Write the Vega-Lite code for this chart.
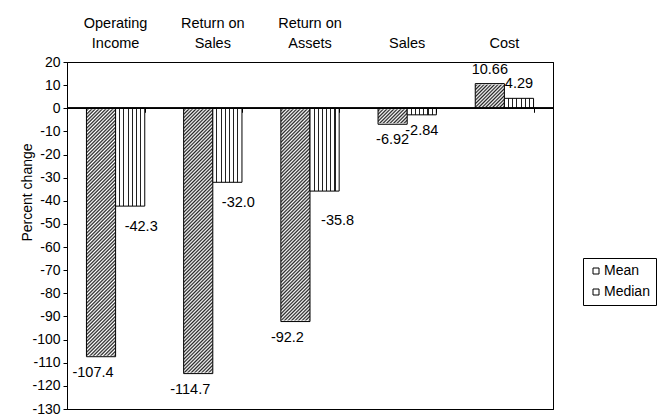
{
"$schema": "https://vega.github.io/schema/vega-lite/v6.json",
"width": 486, "height": 347,
"autosize": "none",
"padding": {"left": 67, "top": 62, "right": 117, "bottom": 10},
"background": "#ffffff",
"config": {
  "view": {"stroke": "#000", "strokeWidth": 1},
  "axis": {"grid": false},
  "font": "Liberation Sans",
  "locale": {"number": {"decimal": ".", "thousands": ",", "grouping": [3], "currency": ["$", ""], "minus": "-"}}
},
"data": {"values": [
  {"cat": "Operating Income", "series": "Mean", "value": -107.4},
  {"cat": "Operating Income", "series": "Median", "value": -42.3},
  {"cat": "Return on Sales", "series": "Mean", "value": -114.7},
  {"cat": "Return on Sales", "series": "Median", "value": -32.0},
  {"cat": "Return on Assets", "series": "Mean", "value": -92.2},
  {"cat": "Return on Assets", "series": "Median", "value": -35.8},
  {"cat": "Sales", "series": "Mean", "value": -6.92},
  {"cat": "Sales", "series": "Median", "value": -2.84},
  {"cat": "Cost", "series": "Mean", "value": 10.66},
  {"cat": "Cost", "series": "Median", "value": 4.29}
]},
"resolve": {"axis": {"x": "independent", "y": "independent"}},
"layer": [
  {
    "transform": [{"filter": "datum.series === 'Mean'"}],
    "mark": {"type": "bar", "strokeWidth": 0, "fill": {"gradient": "linear", "x1": 0, "y1": 0, "x2": 0.1189, "y2": 1.1887, "stops": [
{"offset":0,"color":"#222"},{"offset":0.005,"color":"#fff"},{"offset":0.01,"color":"#222"},{"offset":0.015,"color":"#fff"},{"offset":0.02,"color":"#222"},{"offset":0.025,"color":"#fff"},{"offset":0.03,"color":"#222"},{"offset":0.035,"color":"#fff"},{"offset":0.04,"color":"#222"},{"offset":0.045,"color":"#fff"},
{"offset":0.05,"color":"#222"},{"offset":0.055,"color":"#fff"},{"offset":0.06,"color":"#222"},{"offset":0.065,"color":"#fff"},{"offset":0.07,"color":"#222"},{"offset":0.075,"color":"#fff"},{"offset":0.08,"color":"#222"},{"offset":0.085,"color":"#fff"},{"offset":0.09,"color":"#222"},{"offset":0.095,"color":"#fff"},
{"offset":0.1,"color":"#222"},{"offset":0.105,"color":"#fff"},{"offset":0.11,"color":"#222"},{"offset":0.115,"color":"#fff"},{"offset":0.12,"color":"#222"},{"offset":0.125,"color":"#fff"},{"offset":0.13,"color":"#222"},{"offset":0.135,"color":"#fff"},{"offset":0.14,"color":"#222"},{"offset":0.145,"color":"#fff"},
{"offset":0.15,"color":"#222"},{"offset":0.155,"color":"#fff"},{"offset":0.16,"color":"#222"},{"offset":0.165,"color":"#fff"},{"offset":0.17,"color":"#222"},{"offset":0.175,"color":"#fff"},{"offset":0.18,"color":"#222"},{"offset":0.185,"color":"#fff"},{"offset":0.19,"color":"#222"},{"offset":0.195,"color":"#fff"},
{"offset":0.2,"color":"#222"},{"offset":0.205,"color":"#fff"},{"offset":0.21,"color":"#222"},{"offset":0.215,"color":"#fff"},{"offset":0.22,"color":"#222"},{"offset":0.225,"color":"#fff"},{"offset":0.23,"color":"#222"},{"offset":0.235,"color":"#fff"},{"offset":0.24,"color":"#222"},{"offset":0.245,"color":"#fff"},
{"offset":0.25,"color":"#222"},{"offset":0.255,"color":"#fff"},{"offset":0.26,"color":"#222"},{"offset":0.265,"color":"#fff"},{"offset":0.27,"color":"#222"},{"offset":0.275,"color":"#fff"},{"offset":0.28,"color":"#222"},{"offset":0.285,"color":"#fff"},{"offset":0.29,"color":"#222"},{"offset":0.295,"color":"#fff"},
{"offset":0.3,"color":"#222"},{"offset":0.305,"color":"#fff"},{"offset":0.31,"color":"#222"},{"offset":0.315,"color":"#fff"},{"offset":0.32,"color":"#222"},{"offset":0.325,"color":"#fff"},{"offset":0.33,"color":"#222"},{"offset":0.335,"color":"#fff"},{"offset":0.34,"color":"#222"},{"offset":0.345,"color":"#fff"},
{"offset":0.35,"color":"#222"},{"offset":0.355,"color":"#fff"},{"offset":0.36,"color":"#222"},{"offset":0.365,"color":"#fff"},{"offset":0.37,"color":"#222"},{"offset":0.375,"color":"#fff"},{"offset":0.38,"color":"#222"},{"offset":0.385,"color":"#fff"},{"offset":0.39,"color":"#222"},{"offset":0.395,"color":"#fff"},
{"offset":0.4,"color":"#222"},{"offset":0.405,"color":"#fff"},{"offset":0.41,"color":"#222"},{"offset":0.415,"color":"#fff"},{"offset":0.42,"color":"#222"},{"offset":0.425,"color":"#fff"},{"offset":0.43,"color":"#222"},{"offset":0.435,"color":"#fff"},{"offset":0.44,"color":"#222"},{"offset":0.445,"color":"#fff"},
{"offset":0.45,"color":"#222"},{"offset":0.455,"color":"#fff"},{"offset":0.46,"color":"#222"},{"offset":0.465,"color":"#fff"},{"offset":0.47,"color":"#222"},{"offset":0.475,"color":"#fff"},{"offset":0.48,"color":"#222"},{"offset":0.485,"color":"#fff"},{"offset":0.49,"color":"#222"},{"offset":0.495,"color":"#fff"},
{"offset":0.5,"color":"#222"},{"offset":0.505,"color":"#fff"},{"offset":0.51,"color":"#222"},{"offset":0.515,"color":"#fff"},{"offset":0.52,"color":"#222"},{"offset":0.525,"color":"#fff"},{"offset":0.53,"color":"#222"},{"offset":0.535,"color":"#fff"},{"offset":0.54,"color":"#222"},{"offset":0.545,"color":"#fff"},
{"offset":0.55,"color":"#222"},{"offset":0.555,"color":"#fff"},{"offset":0.56,"color":"#222"},{"offset":0.565,"color":"#fff"},{"offset":0.57,"color":"#222"},{"offset":0.575,"color":"#fff"},{"offset":0.58,"color":"#222"},{"offset":0.585,"color":"#fff"},{"offset":0.59,"color":"#222"},{"offset":0.595,"color":"#fff"},
{"offset":0.6,"color":"#222"},{"offset":0.605,"color":"#fff"},{"offset":0.61,"color":"#222"},{"offset":0.615,"color":"#fff"},{"offset":0.62,"color":"#222"},{"offset":0.625,"color":"#fff"},{"offset":0.63,"color":"#222"},{"offset":0.635,"color":"#fff"},{"offset":0.64,"color":"#222"},{"offset":0.645,"color":"#fff"},
{"offset":0.65,"color":"#222"},{"offset":0.655,"color":"#fff"},{"offset":0.66,"color":"#222"},{"offset":0.665,"color":"#fff"},{"offset":0.67,"color":"#222"},{"offset":0.675,"color":"#fff"},{"offset":0.68,"color":"#222"},{"offset":0.685,"color":"#fff"},{"offset":0.69,"color":"#222"},{"offset":0.695,"color":"#fff"},
{"offset":0.7,"color":"#222"},{"offset":0.705,"color":"#fff"},{"offset":0.71,"color":"#222"},{"offset":0.715,"color":"#fff"},{"offset":0.72,"color":"#222"},{"offset":0.725,"color":"#fff"},{"offset":0.73,"color":"#222"},{"offset":0.735,"color":"#fff"},{"offset":0.74,"color":"#222"},{"offset":0.745,"color":"#fff"},
{"offset":0.75,"color":"#222"},{"offset":0.755,"color":"#fff"},{"offset":0.76,"color":"#222"},{"offset":0.765,"color":"#fff"},{"offset":0.77,"color":"#222"},{"offset":0.775,"color":"#fff"},{"offset":0.78,"color":"#222"},{"offset":0.785,"color":"#fff"},{"offset":0.79,"color":"#222"},{"offset":0.795,"color":"#fff"},
{"offset":0.8,"color":"#222"},{"offset":0.805,"color":"#fff"},{"offset":0.81,"color":"#222"},{"offset":0.815,"color":"#fff"},{"offset":0.82,"color":"#222"},{"offset":0.825,"color":"#fff"},{"offset":0.83,"color":"#222"},{"offset":0.835,"color":"#fff"},{"offset":0.84,"color":"#222"},{"offset":0.845,"color":"#fff"},
{"offset":0.85,"color":"#222"},{"offset":0.855,"color":"#fff"},{"offset":0.86,"color":"#222"},{"offset":0.865,"color":"#fff"},{"offset":0.87,"color":"#222"},{"offset":0.875,"color":"#fff"},{"offset":0.88,"color":"#222"},{"offset":0.885,"color":"#fff"},{"offset":0.89,"color":"#222"},{"offset":0.895,"color":"#fff"},
{"offset":0.9,"color":"#222"},{"offset":0.905,"color":"#fff"},{"offset":0.91,"color":"#222"},{"offset":0.915,"color":"#fff"},{"offset":0.92,"color":"#222"},{"offset":0.925,"color":"#fff"},{"offset":0.93,"color":"#222"},{"offset":0.935,"color":"#fff"},{"offset":0.94,"color":"#222"},{"offset":0.945,"color":"#fff"},
{"offset":0.95,"color":"#222"},{"offset":0.955,"color":"#fff"},{"offset":0.96,"color":"#222"},{"offset":0.965,"color":"#fff"},{"offset":0.97,"color":"#222"},{"offset":0.975,"color":"#fff"},{"offset":0.98,"color":"#222"},{"offset":0.985,"color":"#fff"},{"offset":0.99,"color":"#222"},{"offset":0.995,"color":"#fff"},
{"offset":1,"color":"#222"}
    ]}},
    "encoding": {
      "x": {"field": "cat", "type": "nominal", "sort": null, "scale": {"paddingInner": 0.4, "paddingOuter": 0.2},
            "axis": {"orient": "bottom", "offset": -300.73, "zindex": 1, "labels": false, "domain": false, "ticks": true, "tickBand": "extent", "tickSize": 4, "tickColor": "#000", "tickWidth": 1, "grid": false, "title": null}},
      "xOffset": {"field": "series", "type": "nominal", "scale": {"paddingInner": 0, "paddingOuter": 0}},
      "y": {"datum": 11, "type": "quantitative", "axis": null},
      "y2": {"datum": -115}
    }
  },
  {
    "transform": [{"filter": "datum.series === 'Mean' && datum.value < 0"}],
    "mark": {"type": "bar", "fill": "#fff", "stroke": "#fff", "strokeWidth": 2},
    "encoding": {
      "x": {"field": "cat", "type": "nominal", "sort": null,
            "axis": {"orient": "bottom", "zindex": 1, "labels": false, "ticks": false, "domain": true, "domainColor": "#000", "domainWidth": 1, "grid": false, "title": null}},
      "xOffset": {"field": "series", "type": "nominal"},
      "y": {"field": "value", "type": "quantitative", "axis": null},
      "y2": {"datum": -115}
    }
  },
  {
    "transform": [{"filter": "datum.series === 'Mean' && datum.value < 0"}],
    "mark": {"type": "bar", "fill": "#fff", "stroke": "#fff", "strokeWidth": 2},
    "encoding": {
      "x": {"field": "cat", "type": "nominal", "sort": null, "axis": null},
      "xOffset": {"field": "series", "type": "nominal"},
      "y": {"datum": 0, "type": "quantitative", "axis": null},
      "y2": {"datum": 11}
    }
  },
  {
    "transform": [{"filter": "datum.series === 'Mean' && datum.value > 0"}],
    "mark": {"type": "bar", "fill": "#fff", "stroke": "#fff", "strokeWidth": 2},
    "encoding": {
      "x": {"field": "cat", "type": "nominal", "sort": null, "axis": null},
      "xOffset": {"field": "series", "type": "nominal"},
      "y": {"field": "value", "type": "quantitative", "axis": null},
      "y2": {"datum": 11}
    }
  },
  {
    "transform": [{"filter": "datum.series === 'Mean' && datum.value > 0"}],
    "mark": {"type": "bar", "fill": "#fff", "stroke": "#fff", "strokeWidth": 2},
    "encoding": {
      "x": {"field": "cat", "type": "nominal", "sort": null, "axis": null},
      "xOffset": {"field": "series", "type": "nominal"},
      "y": {"datum": 0, "type": "quantitative", "axis": null},
      "y2": {"datum": -115}
    }
  },
  {
    "mark": {"type": "bar", "strokeWidth": 1},
    "encoding": {
      "x": {"field": "cat", "type": "nominal", "sort": null, "scale": {"paddingInner": 0.4, "paddingOuter": 0.2},
            "axis": {"orient": "top", "zindex": 1, "ticks": false, "domain": true, "domainColor": "#000", "domainWidth": 1, "grid": false, "title": null, "labelAngle": 0,
                     "labelPadding": 32, "labelFontSize": 14.5, "labelLineHeight": 20, "labelColor": "#000",
                     "labelExpr": "datum.value === 'Operating Income' ? ['Operating', 'Income'] : datum.value === 'Return on Sales' ? ['Return on', 'Sales'] : datum.value === 'Return on Assets' ? ['Return on', 'Assets'] : ['', datum.label]"}},
      "xOffset": {"field": "series", "type": "nominal", "scale": {"paddingInner": 0, "paddingOuter": 0}},
      "y": {"field": "value", "type": "quantitative", "scale": {"domain": [-130, 20], "nice": false, "zero": false},
            "axis": {"orient": "left", "zindex": 1, "title": "Percent change", "values": [-130, -120, -110, -100, -90, -80, -70, -60, -50, -40, -30, -20, -10, 0, 10, 20],
                     "labelOverlap": false, "labelBound": false,
                     "tickSize": 4, "labelPadding": 3, "labelFontSize": 14, "labelColor": "#000", "domainColor": "#000", "tickColor": "#000",
                     "grid": false, "titleFontSize": 14, "titleFontWeight": "normal", "titleColor": "#000", "titleX": -33, "titleY": 130}},
      "y2": {"datum": 0},
      "fill": {"condition": {"test": "datum.series === 'Median'", "value": {"gradient": "linear", "x1": 0, "y1": 0, "x2": 1, "y2": 0, "stops": [
        {"offset": 0, "color": "#fff"},
        {"offset": 0.125, "color": "#fff"}, {"offset": 0.125, "color": "#222"}, {"offset": 0.161, "color": "#222"}, {"offset": 0.161, "color": "#fff"},
        {"offset": 0.268, "color": "#fff"}, {"offset": 0.268, "color": "#222"}, {"offset": 0.304, "color": "#222"}, {"offset": 0.304, "color": "#fff"},
        {"offset": 0.411, "color": "#fff"}, {"offset": 0.411, "color": "#222"}, {"offset": 0.447, "color": "#222"}, {"offset": 0.447, "color": "#fff"},
        {"offset": 0.554, "color": "#fff"}, {"offset": 0.554, "color": "#222"}, {"offset": 0.589, "color": "#222"}, {"offset": 0.589, "color": "#fff"},
        {"offset": 0.696, "color": "#fff"}, {"offset": 0.696, "color": "#222"}, {"offset": 0.732, "color": "#222"}, {"offset": 0.732, "color": "#fff"},
        {"offset": 0.839, "color": "#fff"}, {"offset": 0.839, "color": "#222"}, {"offset": 0.875, "color": "#222"}, {"offset": 0.875, "color": "#fff"},
        {"offset": 1, "color": "#fff"}]}}, "value": "transparent"},
      "stroke": {"field": "series", "type": "nominal", "scale": {"range": ["#000", "#000"]},
                 "legend": {"title": null, "orient": "none", "legendX": 516, "legendY": 196, "strokeColor": "#000", "fillColor": "#fff",
                            "padding": 6, "symbolType": "square", "symbolSize": 36, "symbolStrokeWidth": 1, "labelFontSize": 14,
                            "labelColor": "#000", "rowPadding": 7, "labelOffset": 1,
                            "encode": {"symbols": {"fill": {"condition": {"test": "datum.value === 'Mean'", "value": {"gradient": "linear", "x1": 0, "y1": 0, "x2": 1, "y2": 1, "stops": [
                              {"offset": 0, "color": "#222"}, {"offset": 0.125, "color": "#fff"}, {"offset": 0.25, "color": "#222"}, {"offset": 0.375, "color": "#fff"},
                              {"offset": 0.5, "color": "#222"}, {"offset": 0.625, "color": "#fff"}, {"offset": 0.75, "color": "#222"}, {"offset": 0.875, "color": "#fff"}, {"offset": 1, "color": "#222"}]}},
                              "value": {"gradient": "linear", "x1": 0, "y1": 0, "x2": 1, "y2": 0, "stops": [
                              {"offset": 0, "color": "#fff"}, {"offset": 0.42, "color": "#fff"}, {"offset": 0.42, "color": "#222"}, {"offset": 0.58, "color": "#222"}, {"offset": 0.58, "color": "#fff"}, {"offset": 1, "color": "#fff"}]}}}}}}
    }
  },
  {
    "mark": {"type": "rule", "color": "#000", "strokeWidth": 1},
    "encoding": {"y": {"datum": 0, "type": "quantitative",
                       "axis": {"orient": "right", "zindex": 1, "labels": false, "ticks": false, "domain": true, "domainColor": "#000", "domainWidth": 1, "grid": false, "title": null}}}
  },
  {
    "transform": [{"filter": "datum.series === 'Mean' && datum.value < 0 && datum.cat !== 'Sales'"}],
    "mark": {"type": "text", "dx": -8, "dy": 16, "baseline": "middle", "fontSize": 14.5, "color": "#000"},
    "encoding": {
      "x": {"field": "cat", "type": "nominal", "sort": null, "axis": null},
      "xOffset": {"field": "series", "type": "nominal"},
      "y": {"field": "value", "type": "quantitative", "axis": null},
      "text": {"field": "value", "type": "quantitative", "format": ".1f"}
    }
  },
  {
    "transform": [{"filter": "datum.series === 'Median' && (datum.cat === 'Operating Income' || datum.cat === 'Return on Sales')"}],
    "mark": {"type": "text", "dx": 11, "dy": 21, "baseline": "middle", "fontSize": 14.5, "color": "#000"},
    "encoding": {
      "x": {"field": "cat", "type": "nominal", "sort": null, "axis": null},
      "xOffset": {"field": "series", "type": "nominal"},
      "y": {"field": "value", "type": "quantitative", "axis": null},
      "text": {"field": "value", "type": "quantitative", "format": ".1f"}
    }
  },
  {
    "transform": [{"filter": "datum.series === 'Median' && datum.cat === 'Return on Assets'"}],
    "mark": {"type": "text", "dx": 13, "dy": 30, "baseline": "middle", "fontSize": 14.5, "color": "#000"},
    "encoding": {
      "x": {"field": "cat", "type": "nominal", "sort": null, "axis": null},
      "xOffset": {"field": "series", "type": "nominal"},
      "y": {"field": "value", "type": "quantitative", "axis": null},
      "text": {"field": "value", "type": "quantitative", "format": ".1f"}
    }
  },
  {
    "transform": [{"filter": "datum.cat === 'Sales'"}],
    "mark": {"type": "text", "dy": 16, "baseline": "middle", "fontSize": 14.5, "color": "#000"},
    "encoding": {
      "x": {"field": "cat", "type": "nominal", "sort": null, "axis": null},
      "xOffset": {"field": "series", "type": "nominal"},
      "y": {"field": "value", "type": "quantitative", "axis": null},
      "text": {"field": "value", "type": "quantitative", "format": ".2f"}
    }
  },
  {
    "transform": [{"filter": "datum.cat === 'Cost'"}],
    "mark": {"type": "text", "dy": -14, "baseline": "middle", "fontSize": 14.5, "color": "#000"},
    "encoding": {
      "x": {"field": "cat", "type": "nominal", "sort": null, "axis": null},
      "xOffset": {"field": "series", "type": "nominal"},
      "y": {"field": "value", "type": "quantitative", "axis": null},
      "text": {"field": "value", "type": "quantitative", "format": ".2f"}
    }
  }
]
}
